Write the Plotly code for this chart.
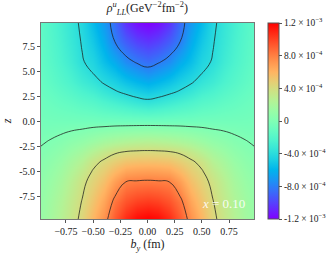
import numpy as np
import plotly.graph_objects as go

# ---- data (rho in units of 1e-4 GeV^-2 fm^-2) ----
z_coord = [10, 8, 6, 5, 4, 3, 2, 0, -2, -3, -4, -5, -6, -8, -10]
b_half = [0.0, 0.1, 0.2, 0.3, 0.4, 0.5, 0.6, 0.7, 0.8, 0.9, 1.0]  # b_y >= 0, field symmetric in b_y
rho_z10 = [-12.1, -11.7, -10.64, -8.74, -7.07, -5.7, -4.33, -3.47, -2.77, -2.07, -1.45]
rho_z8 = [-10.35, -9.97, -9.16, -8.02, -6.35, -5.08, -4.12, -3.3, -2.6, -1.95, -1.38]
rho_z6 = [-8.57, -8.17, -7.54, -6.38, -5.5, -4.44, -3.9, -3.0, -2.4, -1.8, -1.3]
rho_z5 = [-7.54, -7.06, -6.46, -5.55, -4.85, -4.11, -3.45, -2.7, -2.17, -1.65, -1.2]
rho_z4 = [-6.28, -5.89, -5.39, -4.72, -4.2, -3.5, -3.0, -2.4, -1.95, -1.5, -1.1]
rho_z3 = [-5.01, -4.72, -4.31, -3.86, -3.32, -2.74, -2.38, -1.93, -1.6, -1.25, -0.95]
rho_z2 = [-3.69, -3.45, -3.09, -2.72, -2.37, -1.97, -1.75, -1.45, -1.25, -1.0, -0.8]
rho_z0 = [-0.6, -0.6, -0.6, -0.58, -0.6, -0.55, -0.55, -0.55, -0.55, -0.55, -0.5]
rho_zm2 = [2.63, 2.55, 2.4, 2.15, 1.85, 1.4, 0.95, 0.65, 0.31, 0.06, -0.15]
rho_zm3 = [4.2, 4.16, 4.05, 3.78, 3.23, 2.54, 1.8, 1.27, 0.77, 0.39, 0.1]
rho_zm4 = [5.56, 5.51, 5.37, 4.86, 4.25, 3.58, 2.55, 1.85, 1.2, 0.7, 0.35]
rho_zm5 = [6.93, 6.86, 6.68, 5.87, 4.9, 4.15, 3.15, 2.3, 1.55, 0.97, 0.53]
rho_zm6 = [8.21, 8.14, 8.0, 6.89, 5.5, 4.57, 3.65, 2.7, 1.85, 1.2, 0.7]
rho_zm8 = [10.26, 10.06, 9.5, 8.42, 6.6, 5.29, 4.08, 3.15, 2.3, 1.55, 0.95]
rho_zm10 = [12.3, 11.98, 10.99, 9.36, 7.5, 6.0, 4.43, 3.42, 2.58, 1.76, 1.1]
rows = [rho_z10, rho_z8, rho_z6, rho_z5, rho_z4, rho_z3, rho_z2, rho_z0,
        rho_zm2, rho_zm3, rho_zm4, rho_zm5, rho_zm6, rho_zm8, rho_zm10]

contour_levels = [-8, -4, 0, 4, 8]
x_tickvals = [-0.75, -0.5, -0.25, 0.0, 0.25, 0.5, 0.75]
x_ticktext = ['−0.75', '−0.50', '−0.25', '0.00', '0.25', '0.50', '0.75']
y_tickvals = [-7.5, -5.0, -2.5, 0.0, 2.5, 5.0, 7.5]
y_ticktext = ['-7.5', '-5.0', '-2.5', '0.0', '2.5', '5.0', '7.5']
cb_tickvals = [-12, -8, -4, 0, 4, 8, 12]
cb_ticktext = ['-1.2 × 10<sup>−3</sup>', '-8.0 × 10<sup>−4</sup>', '-4.0 × 10<sup>−4</sup>', '0',
               '4.0 × 10<sup>−4</sup>', '8.0 × 10<sup>−4</sup>', '1.2 × 10<sup>−3</sup>']

# ---- mirror to full b_y grid ----
b_full = [-v for v in b_half[:0:-1]] + b_half
Z = np.array([r[:0:-1] + r for r in rows])[::-1]
zc = np.array(z_coord)[::-1]

# matplotlib "rainbow" colormap
ts = np.linspace(0, 1, 21)
cs = []
for t in ts:
    r = min(abs(2 * t - 0.5), 1.0)
    g = np.sin(np.pi * t)
    b = np.cos(np.pi * t / 2)
    cs.append([float(t), f'rgb({int(round(r*255))},{int(round(g*255))},{int(round(b*255))})'])

font = 'Liberation Serif'

fig = go.Figure()
fig.add_trace(go.Heatmap(
    x=b_full, y=zc, z=Z, zsmooth='best', colorscale=cs, zmin=-12, zmax=12,
    colorbar=dict(x=1.066, xanchor='left', xpad=0, y=0.5, len=1.0, ypad=0, thickness=11,
                  outlinecolor='#555', outlinewidth=1,
                  tickvals=cb_tickvals, ticktext=cb_ticktext, ticks='outside',
                  ticklen=3, tickcolor='#555', tickfont=dict(family=font, size=9.5, color='#222')),
))
fig.add_trace(go.Contour(
    x=b_full, y=zc, z=Z, showscale=False,
    contours=dict(coloring='none', start=contour_levels[0], end=contour_levels[-1],
                  size=contour_levels[1] - contour_levels[0]),
    line=dict(color='rgba(30,30,30,0.85)', width=0.9, smoothing=1.3),
    hoverinfo='skip',
))

fig.add_annotation(x=0.70, y=-8.2, xref='x', yref='y', showarrow=False,
                   text='<i>x</i> = 0.10', font=dict(family=font, size=13, color='rgba(255,255,255,0.9)'))

fig.update_layout(
    width=335, height=259,
    margin=dict(l=41, r=81, t=23, b=40, autoexpand=False),
    paper_bgcolor='white', plot_bgcolor='white',
    font=dict(family=font, size=10, color='#222'),
    title=dict(text='<i>ρ</i><sup><i>u</i></sup><sub><i>LL</i></sub>(GeV<sup>−2</sup>fm<sup>−2</sup>)',
               x=0.44, xanchor='center', y=0.985, yanchor='top',
               font=dict(family=font, size=12, color='#222')),
    xaxis=dict(range=[-0.98, 0.98], tickvals=x_tickvals, ticktext=x_ticktext, tickangle=0,
               automargin=False, tickfont=dict(family=font, size=10),
               ticks='outside', ticklen=3, tickcolor='#555', showgrid=False, zeroline=False,
               showline=True, linecolor='#777', linewidth=1, mirror=True,
               title=dict(text='<i>b<sub>y</sub></i> (fm)', standoff=2,
                          font=dict(family=font, size=12))),
    yaxis=dict(range=[-9.7, 9.85], tickvals=y_tickvals, ticktext=y_ticktext,
               automargin=False, tickfont=dict(family=font, size=10),
               ticks='outside', ticklen=3, tickcolor='#555', showgrid=False, zeroline=False,
               showline=True, linecolor='#777', linewidth=1, mirror=True,
               title=dict(text='<i>z</i>', standoff=6, font=dict(family=font, size=12))),
)

fig.write_html('out.html', config={'displayModeBar': False},
               post_script="document.body.style.margin='0';")
